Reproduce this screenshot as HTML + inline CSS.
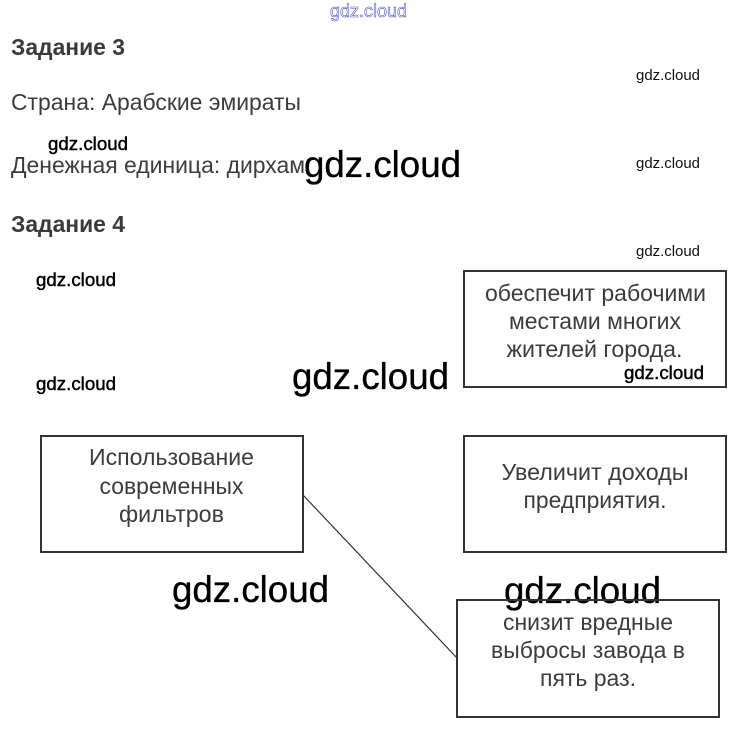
<!DOCTYPE html>
<html lang="ru">
<head>
<meta charset="utf-8">
<style>
html,body{margin:0;padding:0;background:#fff;width:736px;height:734px;overflow:hidden}
svg{display:block}
.t{font-family:"Liberation Sans",sans-serif;fill:#3c3c3c;font-size:23.5px}
.h{font-family:"Liberation Sans",sans-serif;fill:#3a3a3a;font-size:23px;font-weight:bold}
.w{font-family:"Liberation Sans",sans-serif;fill:#000}
.big{font-size:37px;stroke:#000;stroke-width:.35}
.mid{font-size:18.5px;stroke:#000;stroke-width:.45}
.sm{font-size:15px;fill:#111}
rect{fill:#fff;stroke:#333;stroke-width:2}
</style>
</head>
<body>
<svg width="736" height="734" viewBox="0 0 736 734" xmlns="http://www.w3.org/2000/svg">
<rect x="0" y="0" width="736" height="734" style="fill:#fff;stroke:none"/>

<text class="w" x="330" y="17" font-size="18" textLength="77" lengthAdjust="spacingAndGlyphs" style="fill:#fff;stroke:#4444cc;stroke-width:.55">gdz.cloud</text>

<text class="h" x="11" y="55" textLength="114" lengthAdjust="spacingAndGlyphs">Задание 3</text>
<text class="t" x="11" y="110" textLength="290" lengthAdjust="spacingAndGlyphs">Страна: Арабские эмираты</text>
<text class="t" x="11" y="173" textLength="294" lengthAdjust="spacingAndGlyphs">Денежная единица: дирхам</text>
<text class="h" x="11" y="232" textLength="114" lengthAdjust="spacingAndGlyphs">Задание 4</text>

<line x1="303" y1="495" x2="457" y2="658" stroke="#333" stroke-width="1.2"/>

<rect x="464" y="271" width="262" height="116"/>
<rect x="41" y="436" width="262" height="116"/>
<rect x="464" y="436" width="262" height="116"/>

<text class="w big" x="504" y="603" textLength="157" lengthAdjust="spacingAndGlyphs">gdz.cloud</text>
<rect x="457" y="600" width="262" height="117" style="fill:none"/>

<text class="t" x="595.5" y="301" text-anchor="middle" textLength="221" lengthAdjust="spacingAndGlyphs">обеспечит рабочими</text>
<text class="t" x="595" y="329" text-anchor="middle" textLength="172" lengthAdjust="spacingAndGlyphs">местами многих</text>
<text class="t" x="594.5" y="357" text-anchor="middle" textLength="176" lengthAdjust="spacingAndGlyphs">жителей города.</text>

<text class="t" x="171.5" y="465" text-anchor="middle" textLength="165" lengthAdjust="spacingAndGlyphs">Использование</text>
<text class="t" x="171.5" y="494" text-anchor="middle" textLength="144" lengthAdjust="spacingAndGlyphs">современных</text>
<text class="t" x="171.5" y="522" text-anchor="middle" textLength="105" lengthAdjust="spacingAndGlyphs">фильтров</text>

<text class="t" x="595" y="480" text-anchor="middle" textLength="187" lengthAdjust="spacingAndGlyphs">Увеличит доходы</text>
<text class="t" x="595" y="508" text-anchor="middle" textLength="143" lengthAdjust="spacingAndGlyphs">предприятия.</text>

<text class="t" x="588" y="630" text-anchor="middle" textLength="170" lengthAdjust="spacingAndGlyphs">снизит вредные</text>
<text class="t" x="588" y="658" text-anchor="middle" textLength="194" lengthAdjust="spacingAndGlyphs">выбросы завода в</text>
<text class="t" x="588" y="686" text-anchor="middle" textLength="96" lengthAdjust="spacingAndGlyphs">пять раз.</text>

<text class="w sm" x="636" y="80" textLength="64" lengthAdjust="spacingAndGlyphs">gdz.cloud</text>
<text class="w sm" x="636" y="168" textLength="64" lengthAdjust="spacingAndGlyphs">gdz.cloud</text>
<text class="w sm" x="636" y="256" textLength="64" lengthAdjust="spacingAndGlyphs">gdz.cloud</text>

<text class="w mid" x="48" y="150" textLength="80" lengthAdjust="spacingAndGlyphs">gdz.cloud</text>
<text class="w mid" x="36" y="286" textLength="80" lengthAdjust="spacingAndGlyphs">gdz.cloud</text>
<text class="w mid" x="36" y="390" textLength="80" lengthAdjust="spacingAndGlyphs">gdz.cloud</text>
<text class="w mid" x="624" y="379" textLength="80" lengthAdjust="spacingAndGlyphs">gdz.cloud</text>

<text class="w big" x="304" y="177" textLength="157" lengthAdjust="spacingAndGlyphs">gdz.cloud</text>
<text class="w big" x="292" y="389" textLength="157" lengthAdjust="spacingAndGlyphs">gdz.cloud</text>
<text class="w big" x="172" y="602" textLength="157" lengthAdjust="spacingAndGlyphs">gdz.cloud</text>
</svg>
</body>
</html>
